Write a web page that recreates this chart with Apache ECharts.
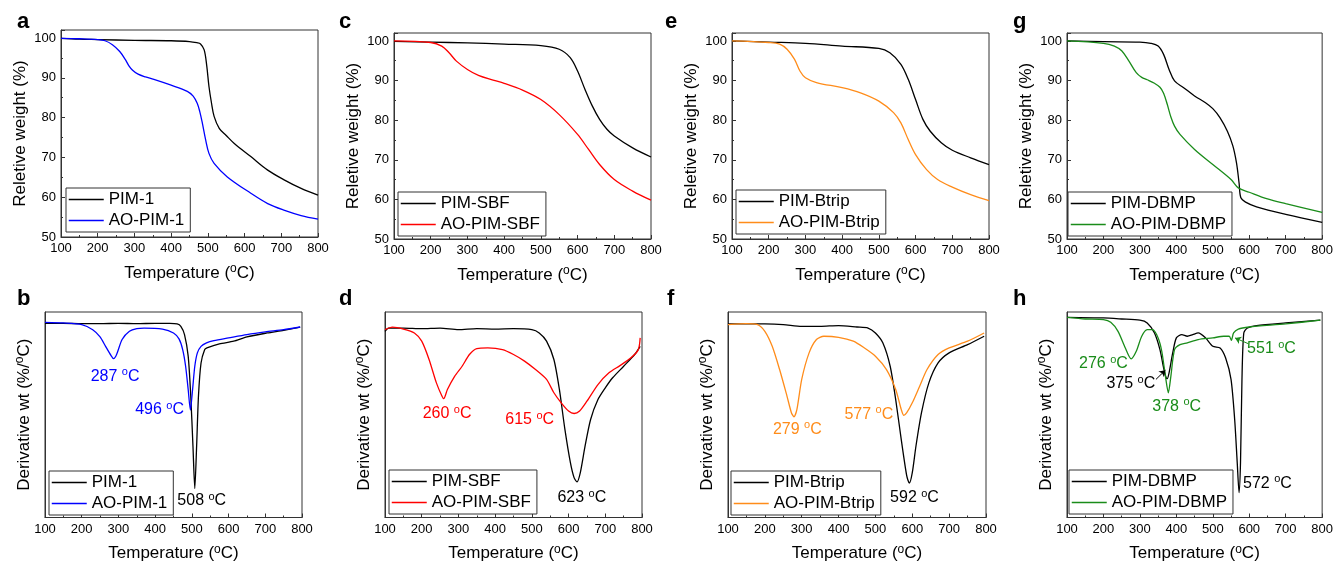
<!DOCTYPE html>
<html><head><meta charset="utf-8">
<script src="https://cdn.jsdelivr.net/npm/echarts@6/dist/echarts.min.js"></script>
<style>html,body{margin:0;padding:0;background:#fff}#c{width:1336px;height:563px}</style>
</head><body><div id="c"></div>
<script>
// ---------- DATA ----------
const tempTicks = [100, 200, 300, 400, 500, 600, 700, 800];
const weightTicks = [50, 60, 70, 80, 90, 100];

// TGA curves: [temperature °C, relative weight %]
const PIM1_TGA = [[100,99.9],[150,99.7],[200,99.6],[300,99.4],[400,99.3],[450,99.1],[470,98.8],[480,98.5],[490,97.0],[497,93.0],[503,87.8],[510,83.6],[517,80.3],[531,77.3],[550,75.5],[572,73.5],[617,70.2],[663,66.8],[709,64.3],[754,62.2],[800,60.5]];
const AOPIM1_TGA = [[100,99.9],[150,99.8],[200,99.6],[220,99.3],[240,98.3],[260,96.6],[275,94.6],[285,93.0],[295,91.9],[310,90.9],[330,90.2],[353,89.6],[398,88.2],[444,86.6],[460,85.4],[471,83.6],[478,81.5],[485,78.6],[494,74.4],[503,71.0],[517,68.5],[553,65.1],[617,61.0],[663,58.4],[709,56.7],[754,55.4],[800,54.5]];
const PIMSBF_TGA = [[100,99.9],[200,99.7],[300,99.5],[400,99.2],[500,98.8],[550,97.9],[580,95.8],[600,92.4],[620,87.8],[640,83.6],[660,80.2],[680,77.7],[700,76.0],[750,73.0],[800,70.7]];
const AOPIMSBF_TGA = [[100,100],[200,99.6],[230,98.7],[250,97.0],[270,94.9],[300,92.8],[330,91.3],[370,90.1],[400,89.3],[450,87.6],[500,85.2],[550,81.4],[600,76.4],[630,72.6],[660,68.8],[700,65.0],[750,62.1],[800,59.8]];
const PIMBTRIP_TGA = [[100,100],[200,99.7],[300,99.4],[400,98.7],[500,98.1],[530,97.0],[560,94.1],[580,90.3],[600,85.2],[620,80.2],[640,77.2],[670,74.3],[700,72.4],[750,70.5],[800,68.8]];
const AOPIMBTRIP_TGA = [[100,100],[200,99.6],[230,99.2],[250,97.9],[270,95.4],[285,92.4],[300,90.7],[330,89.5],[400,88.2],[450,86.9],[500,84.8],[540,81.9],[560,79.3],[580,75.1],[600,71.3],[630,67.5],[660,65.0],[700,63.1],[750,61.2],[800,59.7]];
const PIMDBMP_TGA = [[100,100],[200,99.8],[300,99.7],[330,99.4],[350,98.7],[365,96.6],[380,92.8],[395,89.9],[420,88.2],[450,86.1],[480,84.4],[500,82.9],[520,80.6],[540,77.2],[555,73.5],[565,69.2],[572,64.2],[577,60.4],[590,59.3],[620,58.1],[700,56.2],[800,54.2]];
const AOPIMDBMP_TGA = [[100,100],[200,99.4],[230,98.7],[250,97.5],[270,94.9],[290,92.0],[305,90.8],[320,90.2],[340,89.3],[355,88.3],[365,86.8],[375,84.0],[385,80.8],[395,78.5],[410,76.4],[450,72.6],[500,68.8],[550,65.0],[570,62.9],[600,61.8],[650,60.1],[700,58.9],[800,56.7]];

// DTG curves: [temperature °C, derivative weight (arbitrary units, 0 = top of frame)]
const PIM1_DTG = [[100,-0.055],[150,-0.055],[200,-0.057],[250,-0.057],[300,-0.055],[350,-0.057],[400,-0.055],[440,-0.055],[460,-0.058],[470,-0.070],[480,-0.110],[490,-0.215],[497,-0.409],[503,-0.652],[508,-0.859],[513,-0.652],[518,-0.409],[525,-0.248],[535,-0.183],[541,-0.175],[575,-0.155],[614,-0.142],[650,-0.121],[705,-0.102],[750,-0.089],[795,-0.074]];
const AOPIM1_DTG = [[100,-0.050],[150,-0.053],[200,-0.061],[230,-0.086],[250,-0.121],[265,-0.167],[280,-0.212],[287,-0.227],[295,-0.207],[310,-0.134],[330,-0.094],[350,-0.081],[370,-0.078],[420,-0.083],[450,-0.102],[465,-0.131],[475,-0.183],[483,-0.264],[490,-0.377],[496,-0.477],[502,-0.377],[508,-0.264],[515,-0.199],[525,-0.167],[540,-0.150],[560,-0.139],[600,-0.126],[650,-0.110],[700,-0.097],[750,-0.086],[795,-0.073]];
const PIMSBF_DTG = [[100,-0.094],[110,-0.078],[150,-0.078],[200,-0.081],[250,-0.078],[300,-0.086],[350,-0.081],[400,-0.083],[450,-0.081],[500,-0.086],[520,-0.102],[540,-0.142],[560,-0.231],[575,-0.377],[590,-0.571],[605,-0.733],[615,-0.806],[623,-0.827],[632,-0.782],[645,-0.652],[660,-0.523],[680,-0.426],[700,-0.369],[720,-0.320],[750,-0.264],[780,-0.207],[795,-0.167]];
const AOPIMSBF_DTG = [[100,-0.086],[120,-0.074],[150,-0.083],[180,-0.102],[200,-0.142],[220,-0.231],[240,-0.345],[255,-0.409],[260,-0.422],[270,-0.377],[290,-0.312],[310,-0.264],[330,-0.207],[350,-0.178],[380,-0.175],[420,-0.183],[450,-0.207],[480,-0.239],[510,-0.280],[540,-0.328],[560,-0.393],[580,-0.442],[600,-0.482],[615,-0.494],[630,-0.482],[650,-0.434],[680,-0.353],[710,-0.296],[740,-0.261],[770,-0.223],[790,-0.183],[795,-0.126]];
const PIMBTRIP_DTG = [[100,-0.058],[200,-0.058],[250,-0.061],[300,-0.070],[350,-0.070],[400,-0.066],[450,-0.073],[480,-0.078],[500,-0.102],[520,-0.150],[540,-0.264],[555,-0.426],[570,-0.620],[585,-0.798],[592,-0.833],[600,-0.782],[610,-0.652],[625,-0.490],[645,-0.345],[670,-0.248],[700,-0.199],[750,-0.159],[795,-0.118]];
const AOPIMBTRIP_DTG = [[100,-0.061],[150,-0.057],[180,-0.061],[200,-0.094],[220,-0.167],[240,-0.280],[260,-0.409],[272,-0.490],[279,-0.510],[287,-0.474],[300,-0.328],[320,-0.199],[340,-0.134],[360,-0.118],[400,-0.123],[440,-0.142],[470,-0.175],[500,-0.215],[530,-0.280],[555,-0.377],[570,-0.474],[577,-0.503],[585,-0.490],[600,-0.442],[620,-0.361],[640,-0.280],[670,-0.207],[700,-0.175],[750,-0.142],[795,-0.102]];
const PIMDBMP_DTG = [[100,-0.026],[200,-0.029],[250,-0.034],[300,-0.040],[320,-0.053],[340,-0.102],[355,-0.183],[365,-0.272],[372,-0.320],[375,-0.324],[380,-0.296],[390,-0.199],[400,-0.126],[415,-0.110],[430,-0.118],[445,-0.110],[460,-0.102],[480,-0.126],[500,-0.167],[520,-0.175],[535,-0.223],[550,-0.328],[560,-0.523],[567,-0.733],[572,-0.879],[576,-0.733],[580,-0.328],[585,-0.102],[595,-0.078],[620,-0.066],[700,-0.053],[795,-0.040]];
const AOPIMDBMP_DTG = [[100,-0.026],[150,-0.034],[200,-0.037],[220,-0.050],[240,-0.094],[260,-0.175],[276,-0.228],[290,-0.191],[305,-0.118],[320,-0.086],[335,-0.086],[350,-0.126],[360,-0.191],[370,-0.312],[378,-0.393],[385,-0.312],[395,-0.183],[410,-0.159],[430,-0.150],[460,-0.134],[500,-0.126],[530,-0.118],[545,-0.118],[551,-0.138],[557,-0.102],[570,-0.083],[600,-0.073],[700,-0.058],[795,-0.040]];

// Peak annotations: [panel index, peak temperature text, label x, label y, colour key]
const peakLabels = [
  [4, '287', 291, -0.312, 'blue'], [4, '496', 412, -0.477, 'blue'], [4, '508', 527, -0.919, 'black'],
  [5, '260', 269, -0.495, 'red'], [5, '615', 494, -0.523, 'red'], [5, '623', 636, -0.903, 'black'],
  [6, '279', 288, -0.571, 'orange'], [6, '577', 482, -0.498, 'orange'], [6, '592', 606, -0.903, 'black'],
  [7, '276', 200, -0.251, 'green'], [7, '375', 275, -0.348, 'black'], [7, '378', 401, -0.458, 'green'],
  [7, '551', 661, -0.178, 'green'], [7, '572', 650, -0.833, 'black']
];
// Arrows in panel h: [panel, from, to, colour]
const arrows = [
  [7, [344, -0.328], [370, -0.283], 'black'],
  [7, [597, -0.154], [561, -0.126], 'green']
];

// ---------- STYLE / LAYOUT ----------
const FONT = 'Arial, "Liberation Sans", Helvetica, sans-serif';
const COL = {black:'#000000', blue:'#0000ff', red:'#ff0000', orange:'#ff8c1a', green:'#1a8c1a'};
const AX = '#333333';

const panels = [
  {letter:'a', lx:17, grid:{left:61, top:30, width:257, height:207}, kind:'tga', s:[['PIM-1',PIM1_TGA,'black'],['AO-PIM-1',AOPIM1_TGA,'blue']], leg:[66,188]},
  {letter:'c', lx:339, grid:{left:394, top:33, width:257, height:206}, kind:'tga', s:[['PIM-SBF',PIMSBF_TGA,'black'],['AO-PIM-SBF',AOPIMSBF_TGA,'red']], leg:[398,192]},
  {letter:'e', lx:665, grid:{left:732, top:33, width:257, height:206}, kind:'tga', s:[['PIM-Btrip',PIMBTRIP_TGA,'black'],['AO-PIM-Btrip',AOPIMBTRIP_TGA,'orange']], leg:[736,190]},
  {letter:'g', lx:1013, grid:{left:1067, top:33, width:256, height:206}, kind:'tga', s:[['PIM-DBMP',PIMDBMP_TGA,'black'],['AO-PIM-DBMP',AOPIMDBMP_TGA,'green']], leg:[1068,192]},
  {letter:'b', lx:17, grid:{left:45, top:312, width:257, height:206}, kind:'dtg', s:[['PIM-1 ',PIM1_DTG,'black'],['AO-PIM-1 ',AOPIM1_DTG,'blue']], leg:[49,471]},
  {letter:'d', lx:339, grid:{left:385, top:312, width:257, height:206}, kind:'dtg', s:[['PIM-SBF ',PIMSBF_DTG,'black'],['AO-PIM-SBF ',AOPIMSBF_DTG,'red']], leg:[389,470]},
  {letter:'f', lx:667, grid:{left:728, top:312, width:258, height:206}, kind:'dtg', s:[['PIM-Btrip ',PIMBTRIP_DTG,'black'],['AO-PIM-Btrip ',AOPIMBTRIP_DTG,'orange']], leg:[731,471]},
  {letter:'h', lx:1013, grid:{left:1067, top:312, width:257, height:206}, kind:'dtg', s:[['PIM-DBMP ',PIMDBMP_DTG,'black'],['AO-PIM-DBMP ',AOPIMDBMP_DTG,'green']], leg:[1069,470]}
];

const supRich = (size) => ({s:{fontSize:size, fontFamily:FONT, color:'#000', padding:[0,0,8,0]}});

const grids = [], xAxes = [], yAxes = [], series = [], legends = [], graphics = [];
panels.forEach((p, i) => {
  grids.push(Object.assign({show:true, borderColor:AX, borderWidth:1, backgroundColor:'transparent'}, p.grid));
  xAxes.push({
    gridIndex:i, type:'value', min:tempTicks[0], max:tempTicks[tempTicks.length-1], interval:tempTicks[1]-tempTicks[0],
    name:'Temperature ({s|o}C)', nameLocation:'middle', nameGap:26,
    nameTextStyle:{fontSize:17, color:'#000', fontFamily:FONT, rich:supRich(12)},
    axisLine:{onZero:false, lineStyle:{color:AX, width:1}},
    axisTick:{inside:true, length:4, lineStyle:{color:AX}},
    minorTick:{show:true, splitNumber:2, length:2, lineStyle:{color:AX}},
    axisLabel:{fontSize:13, color:'#000', margin:5, fontFamily:FONT},
    splitLine:{show:false}, minorSplitLine:{show:false}
  });
  if (p.kind === 'tga') {
    yAxes.push({
      gridIndex:i, type:'value', min:weightTicks[0], max:102, interval:weightTicks[1]-weightTicks[0],
      name:'Reletive weight (%)', nameLocation:'middle', nameGap:32,
      nameTextStyle:{fontSize:17, color:'#000', fontFamily:FONT},
      axisLine:{show:true, onZero:false, lineStyle:{color:AX, width:1}},
      axisTick:{show:true, inside:true, length:4, lineStyle:{color:AX}},
      minorTick:{show:true, splitNumber:2, length:2, lineStyle:{color:AX}},
      axisLabel:{fontSize:13, color:'#000', margin:5, fontFamily:FONT, showMaxLabel:false},
      splitLine:{show:false}, minorSplitLine:{show:false}
    });
  } else {
    yAxes.push({
      gridIndex:i, type:'value', min:-1, max:0,
      name:'Derivative wt (%/{s|o}C)', nameLocation:'middle', nameGap:11,
      nameTextStyle:{fontSize:17, color:'#000', fontFamily:FONT, rich:supRich(12)},
      axisLine:{show:true, onZero:false, lineStyle:{color:AX, width:1}},
      axisTick:{show:false}, axisLabel:{show:false}, splitLine:{show:false}
    });
  }
  p.s.forEach(([name, data, c]) => {
    series.push({
      type:'line', name, data, xAxisIndex:i, yAxisIndex:i, symbol:'none', showSymbol:false,
      smooth: p.kind === 'tga' ? 0.35 : 0.25,
      lineStyle:{color:COL[c], width:1.3}, itemStyle:{color:COL[c]}, silent:true, animation:false
    });
  });
  legends.push({
    data:p.s.map(s => s[0]), orient:'vertical', left:p.leg[0], top:p.leg[1],
    formatter:(n) => n.trim(),
    itemWidth:35, itemHeight:17, itemGap:4, padding:[3,6,3,2],
    itemStyle:{opacity:0, borderWidth:0},
    lineStyle:{width:1.5},
    borderColor:AX, borderWidth:1, backgroundColor:'#fff', selectedMode:false,
    textStyle:{fontSize:17, color:'#000', fontFamily:FONT}
  });
  graphics.push({type:'text', left:p.lx, top:p.grid.top < 100 ? 11 : 288,
    style:{text:p.letter, font:'bold 22px ' + FONT, fill:'#000'}});
});

arrows.forEach(([pi, from, to, c]) => {
  series.push({type:'lines', coordinateSystem:'cartesian2d', xAxisIndex:pi, yAxisIndex:pi,
    data:[{coords:[from, to]}], symbol:['none','arrow'], symbolSize:6,
    lineStyle:{color:COL[c], width:1, opacity:1}, silent:true, animation:false, z:5});
});

const option = {
  animation:false, backgroundColor:'#fff',
  textStyle:{fontFamily:FONT},
  grid:grids, xAxis:xAxes, yAxis:yAxes, series, legend:legends, graphic:graphics
};

const chart = echarts.init(document.getElementById('c'), null, {renderer:'canvas'});
chart.setOption(option);

// peak labels placed through the library's coordinate conversion
const labelGraphics = peakLabels.map(([pi, t, x, y, c]) => {
  const px = chart.convertToPixel({gridIndex:pi}, [x, y]);
  return {type:'text', x:px[0], y:px[1], z:10,
    style:{text:t + ' {s|o}C', fill:COL[c], fontSize:16, fontFamily:FONT,
      align:'center', verticalAlign:'middle', textAlign:'center', textVerticalAlign:'middle',
      rich:{s:{fontSize:11, fontFamily:FONT, fill:COL[c], padding:[0,0,8,0]}}}};
});
chart.setOption({graphic: graphics.concat(labelGraphics)});
</script>
</body></html>
